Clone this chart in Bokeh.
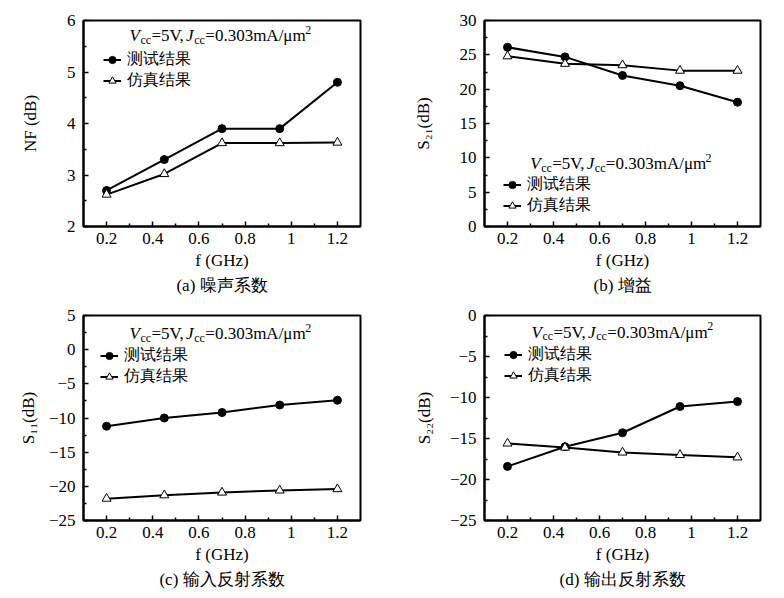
from bokeh.plotting import figure
from bokeh.models import (Range1d, FixedTicker, Label, Legend, LegendItem, Title,
                          CustomJSTickFormatter)
from bokeh.layouts import gridplot
from bokeh.embed import file_html
from bokeh.resources import INLINE

# ---------------- data ----------------
freq = [0.2, 0.45, 0.7, 0.95, 1.2]

nf_meas = [2.7, 3.3, 3.9, 3.9, 4.8]
nf_sim = [2.62, 3.02, 3.62, 3.62, 3.63]

s21_meas = [26.1, 24.7, 22.0, 20.5, 18.1]
s21_sim = [24.8, 23.7, 23.5, 22.7, 22.7]

s11_meas = [-11.2, -10.0, -9.2, -8.1, -7.4]
s11_sim = [-21.8, -21.3, -20.9, -20.6, -20.4]

s22_meas = [-18.4, -16.0, -14.3, -11.1, -10.5]
s22_sim = [-15.6, -16.1, -16.7, -17.0, -17.3]

x_ticks = [0.2, 0.4, 0.6, 0.8, 1.0, 1.2]
x_minor = [0.3, 0.5, 0.7, 0.9, 1.1]

nf_ticks = [2, 3, 4, 5, 6]
s21_ticks = [0, 5, 10, 15, 20, 25, 30]
s11_ticks = [-25, -20, -15, -10, -5, 0, 5]
s22_ticks = [-25, -20, -15, -10, -5, 0]

labels_series = ["测试结果", "仿真结果"]
x_label = "f (GHz)"
y_labels = ["NF (dB)", "S₂₁(dB)", "S₁₁(dB)", "S₂₂(dB)"]
captions = ["(a) 噪声系数", "(b) 增益", "(c) 输入反射系数", "(d) 输出反射系数"]

SERIF = "Liberation Serif"

# annotation pieces: text, font size px, style, vertical shift px (up), width in em
note_pieces = [
    ("V", 17, "italic", 0, 0.64),
    ("cc", 12, "normal", -4, 0.92),
    ("=5V,", 17, "normal", 0, 2.04),
    ("J", 17, "italic", 0, 0.48),
    ("cc", 12, "normal", -4, 0.92),
    ("=0.303mA/μm", 17, "normal", 0, 5.88),
    ("2", 12, "normal", 6, 0.5),
]


def make_panel(meas, sim, yticks, ylab, caption, fig_w, fig_h, bl, br, bt, bb,
               y_label_standoff, note_pos, legend_pos):
    y0, y1 = yticks[0], yticks[-1]
    x0, x1 = 0.1, 1.3
    p = figure(width=fig_w, height=fig_h, x_range=Range1d(x0, x1), y_range=Range1d(y0, y1),
               output_backend="svg", toolbar_location=None,
               min_border_left=bl, min_border_right=br, min_border_top=bt, min_border_bottom=bb)
    fw = fig_w - bl - br
    fh = fig_h - bt - bb
    p.xgrid.visible = False
    p.ygrid.visible = False
    p.outline_line_color = "black"
    p.outline_line_width = 2
    p.background_fill_color = "white"
    p.border_fill_color = "white"

    p.xaxis.ticker = FixedTicker(ticks=x_ticks, minor_ticks=x_minor)
    half = [(yticks[i] + yticks[i + 1]) / 2 for i in range(len(yticks) - 1)]
    p.yaxis.ticker = FixedTicker(ticks=yticks, minor_ticks=half)
    p.xaxis.formatter = CustomJSTickFormatter(code="return (Math.abs(tick-1)<1e-9) ? '1' : tick.toFixed(1);")
    p.yaxis.formatter = CustomJSTickFormatter(code="return tick < 0 ? '\u2212' + String(-tick) : String(tick);")

    for ax in (p.xaxis[0], p.yaxis[0]):
        ax.axis_line_width = 2
        ax.axis_line_color = "black"
        ax.major_tick_in = 5
        ax.major_tick_out = 0
        ax.minor_tick_in = 3
        ax.minor_tick_out = 0
        ax.major_tick_line_width = 1.5
        ax.minor_tick_line_width = 1.5
        ax.major_tick_line_color = "black"
        ax.minor_tick_line_color = "black"
        ax.major_label_text_font = SERIF
        ax.major_label_text_font_size = "17px"
        ax.major_label_text_color = "black"
        ax.axis_label_text_font = SERIF
        ax.axis_label_text_font_size = "17px"
        ax.axis_label_text_font_style = "normal"
        ax.axis_label_text_color = "black"
    p.xaxis.axis_label = x_label
    p.yaxis.axis_label = ylab
    p.xaxis.major_label_standoff = 6
    p.xaxis.axis_label_standoff = 4
    p.yaxis.major_label_standoff = 8
    p.yaxis.axis_label_standoff = y_label_standoff
    p.yaxis.major_label_orientation = "horizontal"

    l1 = p.line(freq, meas, line_color="black", line_width=2)
    m1 = p.scatter(freq, meas, marker="circle", size=8, fill_color="black", line_color="black")
    l2 = p.line(freq, sim, line_color="black", line_width=2)
    m2 = p.scatter(freq, sim, marker="triangle", size=9, fill_color="white",
                   line_color="black", line_width=1)

    # legend
    gx, row1 = legend_pos
    item_h = 19
    real_h = 20
    spacing = 0
    leg_h = 2 * real_h + spacing
    leg_bottom_from_top = row1 - real_h / 2 + leg_h
    legend = Legend(items=[LegendItem(label=labels_series[0], renderers=[l1, m1]),
                           LegendItem(label=labels_series[1], renderers=[l2, m2])],
                    location=(gx, fh - leg_bottom_from_top), padding=0, spacing=spacing,
                    glyph_width=18, glyph_height=item_h, label_height=item_h,
                    label_standoff=6, border_line_alpha=0, background_fill_alpha=0,
                    label_text_font=SERIF, label_text_font_size="16px",
                    label_text_line_height=1.0,
                    label_text_color="black", margin=0)
    p.add_layout(legend)

    # annotation V_cc=5V, J_cc=0.303mA/um^2
    nx, ny = note_pos
    cursor = nx
    for txt, size, style, dy, wem in note_pieces:
        xd = x0 + cursor / fw * (x1 - x0)
        yd = y1 - (ny - dy) / fh * (y1 - y0)
        p.add_layout(Label(x=xd, y=yd, text=txt, text_font=SERIF, text_font_size=f"{size}px",
                           text_font_style=style, text_baseline="middle", text_align="left",
                           text_color="black"))
        cursor += wem * size

    p.add_layout(Title(text=caption, align="center", text_font=SERIF, text_font_size="17px",
                       text_font_style="normal", text_color="black", standoff=3), "below")
    return p


pa = make_panel(nf_meas, nf_sim, nf_ticks, y_labels[0], captions[0], 392, 299, 83, 32, 20, 73,
                24, (46, 15), (20, 41))
pb = make_panel(s21_meas, s21_sim, s21_ticks, y_labels[1], captions[1], 392, 299, 91, 24, 20, 73,
                24, (46, 143), (19, 166))
pc = make_panel(s11_meas, s11_sim, s11_ticks, y_labels[2], captions[2], 392, 299, 83, 32, 16, 78,
                8, (46, 18), (17, 42))
pd = make_panel(s22_meas, s22_sim, s22_ticks, y_labels[3], captions[3], 392, 299, 92, 24, 16, 77,
                13, (47, 17), (20, 42))

grid = gridplot([[pa, pb], [pc, pd]], toolbar_location=None)

open("out.html", "w").write(file_html(grid, INLINE))
